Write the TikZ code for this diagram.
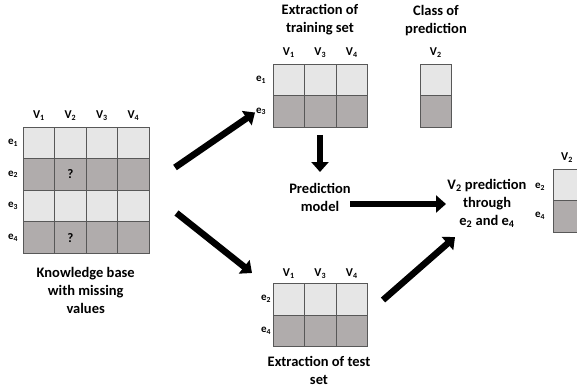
\documentclass[tikz,border=0pt]{standalone}
\usepackage{fontspec}
\setmainfont{Carlito}
\usetikzlibrary{positioning,arrows.meta}

\definecolor{celllight}{RGB}{230,230,230}
\definecolor{celldark}{RGB}{176,172,172}
\definecolor{cellline}{RGB}{88,88,88}

\tikzset{
  lightcell/.style={draw=cellline, fill=celllight, minimum width=31.5pt, minimum height=31.6pt, inner sep=0pt, line width=0.8pt},
  darkcell/.style={lightcell, fill=celldark},
  collabel/.style={font=\bfseries\fontsize{12}{12}\selectfont, inner sep=0pt},
  rowlabel/.style={font=\bfseries\fontsize{11}{11}\selectfont, inner sep=0pt},
  caption/.style={font=\bfseries\fontsize{14.5}{18}\selectfont, align=center, inner sep=0pt},
  bigarrow/.style={line width=6.5pt, -{Triangle[length=10pt,width=17pt]}}
}

\begin{document}
\begin{tikzpicture}[x=1pt, y=-1pt]
\useasboundingbox (0,0) rectangle (577,390);

% Knowledge base (left grid, 4 x 4)
\foreach \r/\cs in {1/lightcell, 2/darkcell, 3/lightcell, 4/darkcell} {
  \foreach \c in {1,...,4} {
    \node[\cs] (kb-\r-\c) at ({38.9+31.5*(\c-1)}, {142.8+31.6*(\r-1)}) {};
  }
  \node[rowlabel] (kb-e\r) at (13, {142.8+31.6*(\r-1)}) {e\textsubscript{\r}};
}
\foreach \c in {1,...,4} {
  \node[collabel] (kb-v\c) at ({38.9+31.5*(\c-1)}, 116) {V\textsubscript{\c}};
}
\node[font=\bfseries\fontsize{13}{13}\selectfont] (kb-q2) at (kb-2-2) {?};
\node[font=\bfseries\fontsize{13}{13}\selectfont] (kb-q4) at (kb-4-2) {?};
\node[caption] (kb-cap) at (85.7, 290) {Knowledge base\\with missing\\values};

% Training set (V1, V3, V4 for e1, e3)
\foreach \r/\e/\cs in {1/1/lightcell, 2/3/darkcell} {
  \foreach \c in {1,2,3} {
    \node[\cs] (tr-\r-\c) at ({288.8+31.5*(\c-1)}, {79.8+31.6*(\r-1)}) {};
  }
  \node[\cs] (cl-\r) at (435.8, {79.8+31.6*(\r-1)}) {};
  \node[rowlabel] (tr-e\e) at (261, {79.8+31.6*(\r-1)}) {e\textsubscript{\e}};
}
\foreach \c/\v in {1/1, 2/3, 3/4} {
  \node[collabel] (tr-v\v) at ({288.8+31.5*(\c-1)}, 53) {V\textsubscript{\v}};
}
\node[collabel] (cl-v2) at (435.8, 53) {V\textsubscript{2}};
\node[caption] (tr-cap) at (320, 20) {Extraction of\\training set};
\node[caption] (cl-cap) at (436, 21) {Class of\\prediction};

% Test set (V1, V3, V4 for e2, e4)
\foreach \r/\e/\cs in {1/2/lightcell, 2/4/darkcell} {
  \foreach \c in {1,2,3} {
    \node[\cs] (te-\r-\c) at ({288.8+31.5*(\c-1)}, {299.1+31.6*(\r-1)}) {};
  }
  \node[rowlabel] (te-e\e) at (266, {299.1+31.6*(\r-1)}) {e\textsubscript{\e}};
}
\foreach \c/\v in {1/1, 2/3, 3/4} {
  \node[collabel] (te-v\v) at ({288.8+31.5*(\c-1)}, 274) {V\textsubscript{\v}};
}
\node[caption] (te-cap) at (319, 370) {Extraction of test\\set};

% Prediction model and result
\node[caption] (model) at (320, 197.5) {Prediction\\model};
\node[caption] (pred) at (487, 203) {V\textsubscript{2} prediction\\through\\e\textsubscript{2} and e\textsubscript{4}};

% Predicted column (cut by the right edge)
\node[lightcell] (rs-1) at (568.8, 184.8) {};
\node[darkcell] (rs-2) at (568.8, 216.4) {};
\node[collabel] (rs-v2) at (567, 158) {V\textsubscript{2}};
\node[rowlabel] (rs-e2) at (540, 186.5) {e\textsubscript{2}};
\node[rowlabel] (rs-e4) at (540, 216) {e\textsubscript{4}};

% Arrow end points
\coordinate (kb-out1) at (175, 167.5);
\coordinate (tr-in) at (255, 112.5);
\coordinate (kb-out2) at (176.5, 213);
\coordinate (te-in) at (252, 273);
\coordinate (tr-out) at (320, 135);
\coordinate (model-in) at (320, 172);
\coordinate (model-out) at (350, 204);
\coordinate (pred-in) at (446, 204);
\coordinate (te-out) at (383, 300);
\coordinate (pred-in2) at (455, 237);

% Arrows
\draw[bigarrow] (kb-out1) -- (tr-in);
\draw[bigarrow] (kb-out2) -- (te-in);
\draw[bigarrow] (tr-out) -- (model-in);
\draw[bigarrow] (model-out) -- (pred-in);
\draw[bigarrow] (te-out) -- (pred-in2);

\end{tikzpicture}
\end{document}
